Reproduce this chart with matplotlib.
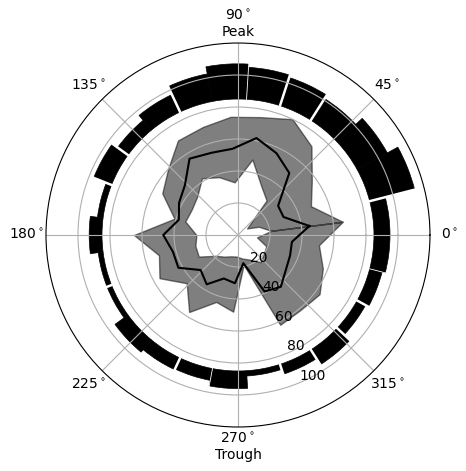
import numpy as np
import matplotlib
matplotlib.use('Agg')
import matplotlib.pyplot as plt

# 25 phase bins of 14.4 deg
n_bins = 25
bin_centers_deg = np.arange(n_bins) * 360 / n_bins + 180 / n_bins

# outer ring: bar tops (bars start at 85)
bar_bottom = 85
bar_top = [95, 114, 106.5, 101, 103.5, 105, 107, 102.5, 97, 93,
           97, 88.5, 93, 88, 88, 95, 93, 92.5, 96, 88.3,
           91.5, 96, 91, 93, 95]
# white separators between some bars (deg, width in pt)
gap_deg = [14.4, 57.6, 72, 86.4, 115.2, 144, 158.4, 201.6, 244.8, 259.2,
           288, 302.4, 316.8, 331.2, 345.6]
gap_lw = [1.8, 1.8, 1.8, 0.6, 1.8, 1.8, 1.8, 1.8, 1.8, 0.6,
          1.8, 1.8, 1.8, 1.8, 0.6]

# inner band
mean_r = [45, 30.6, 31, 50.3, 56.5, 61.7, 54, 54, 56.5, 45.5,
          42, 38.2, 46.7, 42, 42.5, 32, 36.5, 28.6, 30.2, 17.9,
          39, 42, 37, 35, 34]
lower_r = [21, 14, 7, 28, 34, 48, 33, 38, 42, 35,
           33, 34, 26, 27.5, 28, 19, 16, 14, 13.5, 15,
           17, 22, 20, 19, 12]
upper_r = [66, 49, 57, 72, 80, 75, 74, 71, 70, 60,
           54, 41, 65, 51, 56, 44, 57, 44, 48, 19,
           62, 61, 63, 57, 51]

theta = np.deg2rad(bin_centers_deg)
theta_c = np.append(theta, theta[0] + 2 * np.pi)
close = lambda v: np.append(v, v[0])

fig = plt.figure(figsize=(4.66, 4.71), dpi=100)
ax = fig.add_axes([0.0987, 0.0934, 0.824, 0.8153], projection='polar')

ax.bar(theta, np.array(bar_top) - bar_bottom, width=2 * np.pi / n_bins,
       bottom=bar_bottom, color='k', edgecolor='k', linewidth=0.5)
ax.vlines(np.deg2rad(gap_deg), bar_bottom - 1, 118, colors='white',
          linewidth=gap_lw, zorder=1.2)

ax.fill_between(theta_c, close(lower_r), close(upper_r), color='k', alpha=0.5)
ax.plot(theta_c, close(mean_r), color='k', lw=1.5)

ax.set_ylim(0, 120)
ax.set_rgrids([20, 40, 60, 80, 100])
ax.set_rlabel_position(292.5)
labels = ['0$^\\circ$', '45$^\\circ$', '90$^\\circ$\nPeak', '135$^\\circ$',
          '180$^\\circ$', '225$^\\circ$', '270$^\\circ$\nTrough', '315$^\\circ$']
ax.set_thetagrids(range(0, 360, 45), labels)

plt.savefig('out.png', dpi=100)
